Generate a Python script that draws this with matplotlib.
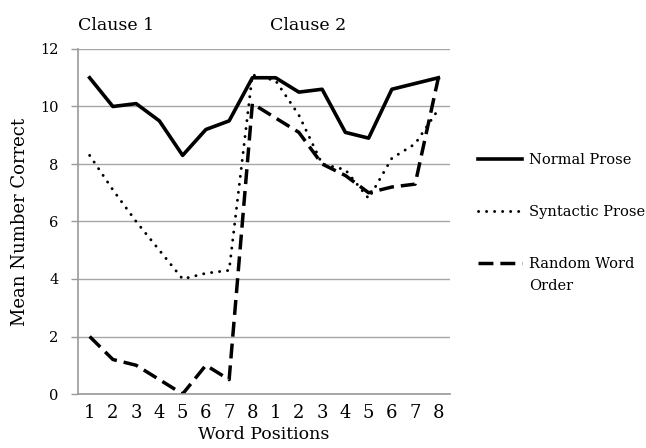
import matplotlib
matplotlib.use("Agg")
import matplotlib.pyplot as plt
import numpy as np

# word positions in clause 1 and clause 2
positions = ["1", "2", "3", "4", "5", "6", "7", "8"] * 2
normal_prose = [11.0, 10.0, 10.1, 9.5, 8.3, 9.2, 9.5, 11.0,
                11.0, 10.5, 10.6, 9.1, 8.9, 10.6, 10.8, 11.0]
syntactic_prose = [8.3, 7.1, 6.0, 5.0, 4.0, 4.2, 4.3, 11.1,
                   10.9, 9.7, 8.0, 7.8, 6.8, 8.2, 8.7, 9.9]
random_order = [2.0, 1.2, 1.0, 0.5, 0.0, 1.0, 0.5, 10.1,
                9.6, 9.1, 8.0, 7.6, 7.0, 7.2, 7.3, 11.0]

plt.rcParams["font.family"] = ["DejaVu Serif"]

fig = plt.figure(figsize=(6.46, 4.48), dpi=100)
ax = fig.add_axes([78 / 646, 54 / 448, 372 / 646, 345 / 448])

x = np.arange(len(positions))
ax.plot(x, normal_prose, color="black", lw=2.6, label="Normal Prose")
ax.plot(x, syntactic_prose, color="black", lw=2.1, linestyle=(0, (0.05, 2.7)),
        dash_capstyle="round", label="Syntactic Prose")
ax.plot(x, random_order, color="black", lw=2.5, linestyle=(0, (4.3, 2.0)),
        label="Random Word")

ax.set_xlim(-0.5, len(positions) - 0.5)
ax.set_ylim(0, 12)
ax.set_yticks(range(0, 13, 2))
ax.set_xticks(x)
ax.set_xticklabels(positions, fontsize=13)
ax.tick_params(axis="y", labelsize=10.5, length=5, color="#9a9a9a", width=1, pad=9)
ax.tick_params(axis="x", length=0, pad=7)
ax.grid(axis="y", color="#a6a6a6", lw=1)
ax.set_axisbelow(True)
for s in ["top", "right"]:
    ax.spines[s].set_visible(False)
for s in ["left", "bottom"]:
    ax.spines[s].set_color("#9a9a9a")
    ax.spines[s].set_linewidth(1.2)

ax.set_ylabel("Mean Number Correct", fontsize=13, labelpad=8)
ax.set_xlabel("Word Positions", fontsize=12.5, labelpad=3)

fig.text(78 / 646, 1 - 25 / 448, "Clause 1", fontsize=12.5, va="center")
fig.text(270 / 646, 1 - 25 / 448, "Clause 2", fontsize=12.5, va="center")

leg = ax.legend(loc="upper left", bbox_to_anchor=(478 / 646, 1 - 153 / 448),
                bbox_transform=fig.transFigure, frameon=False, fontsize=10.5,
                handlelength=3.0, handletextpad=0.5, labelspacing=2.6,
                borderpad=0, borderaxespad=0)

# second line of the last legend label, aligned with the legend text
fig.canvas.draw()
last = leg.get_texts()[-1].get_window_extent()
x0 = fig.transFigure.inverted().transform((last.x0, last.y0))[0]
fig.text(x0, 1 - 286 / 448, "Order", fontsize=10.5, va="center")

fig.savefig("out.png", dpi=100)
